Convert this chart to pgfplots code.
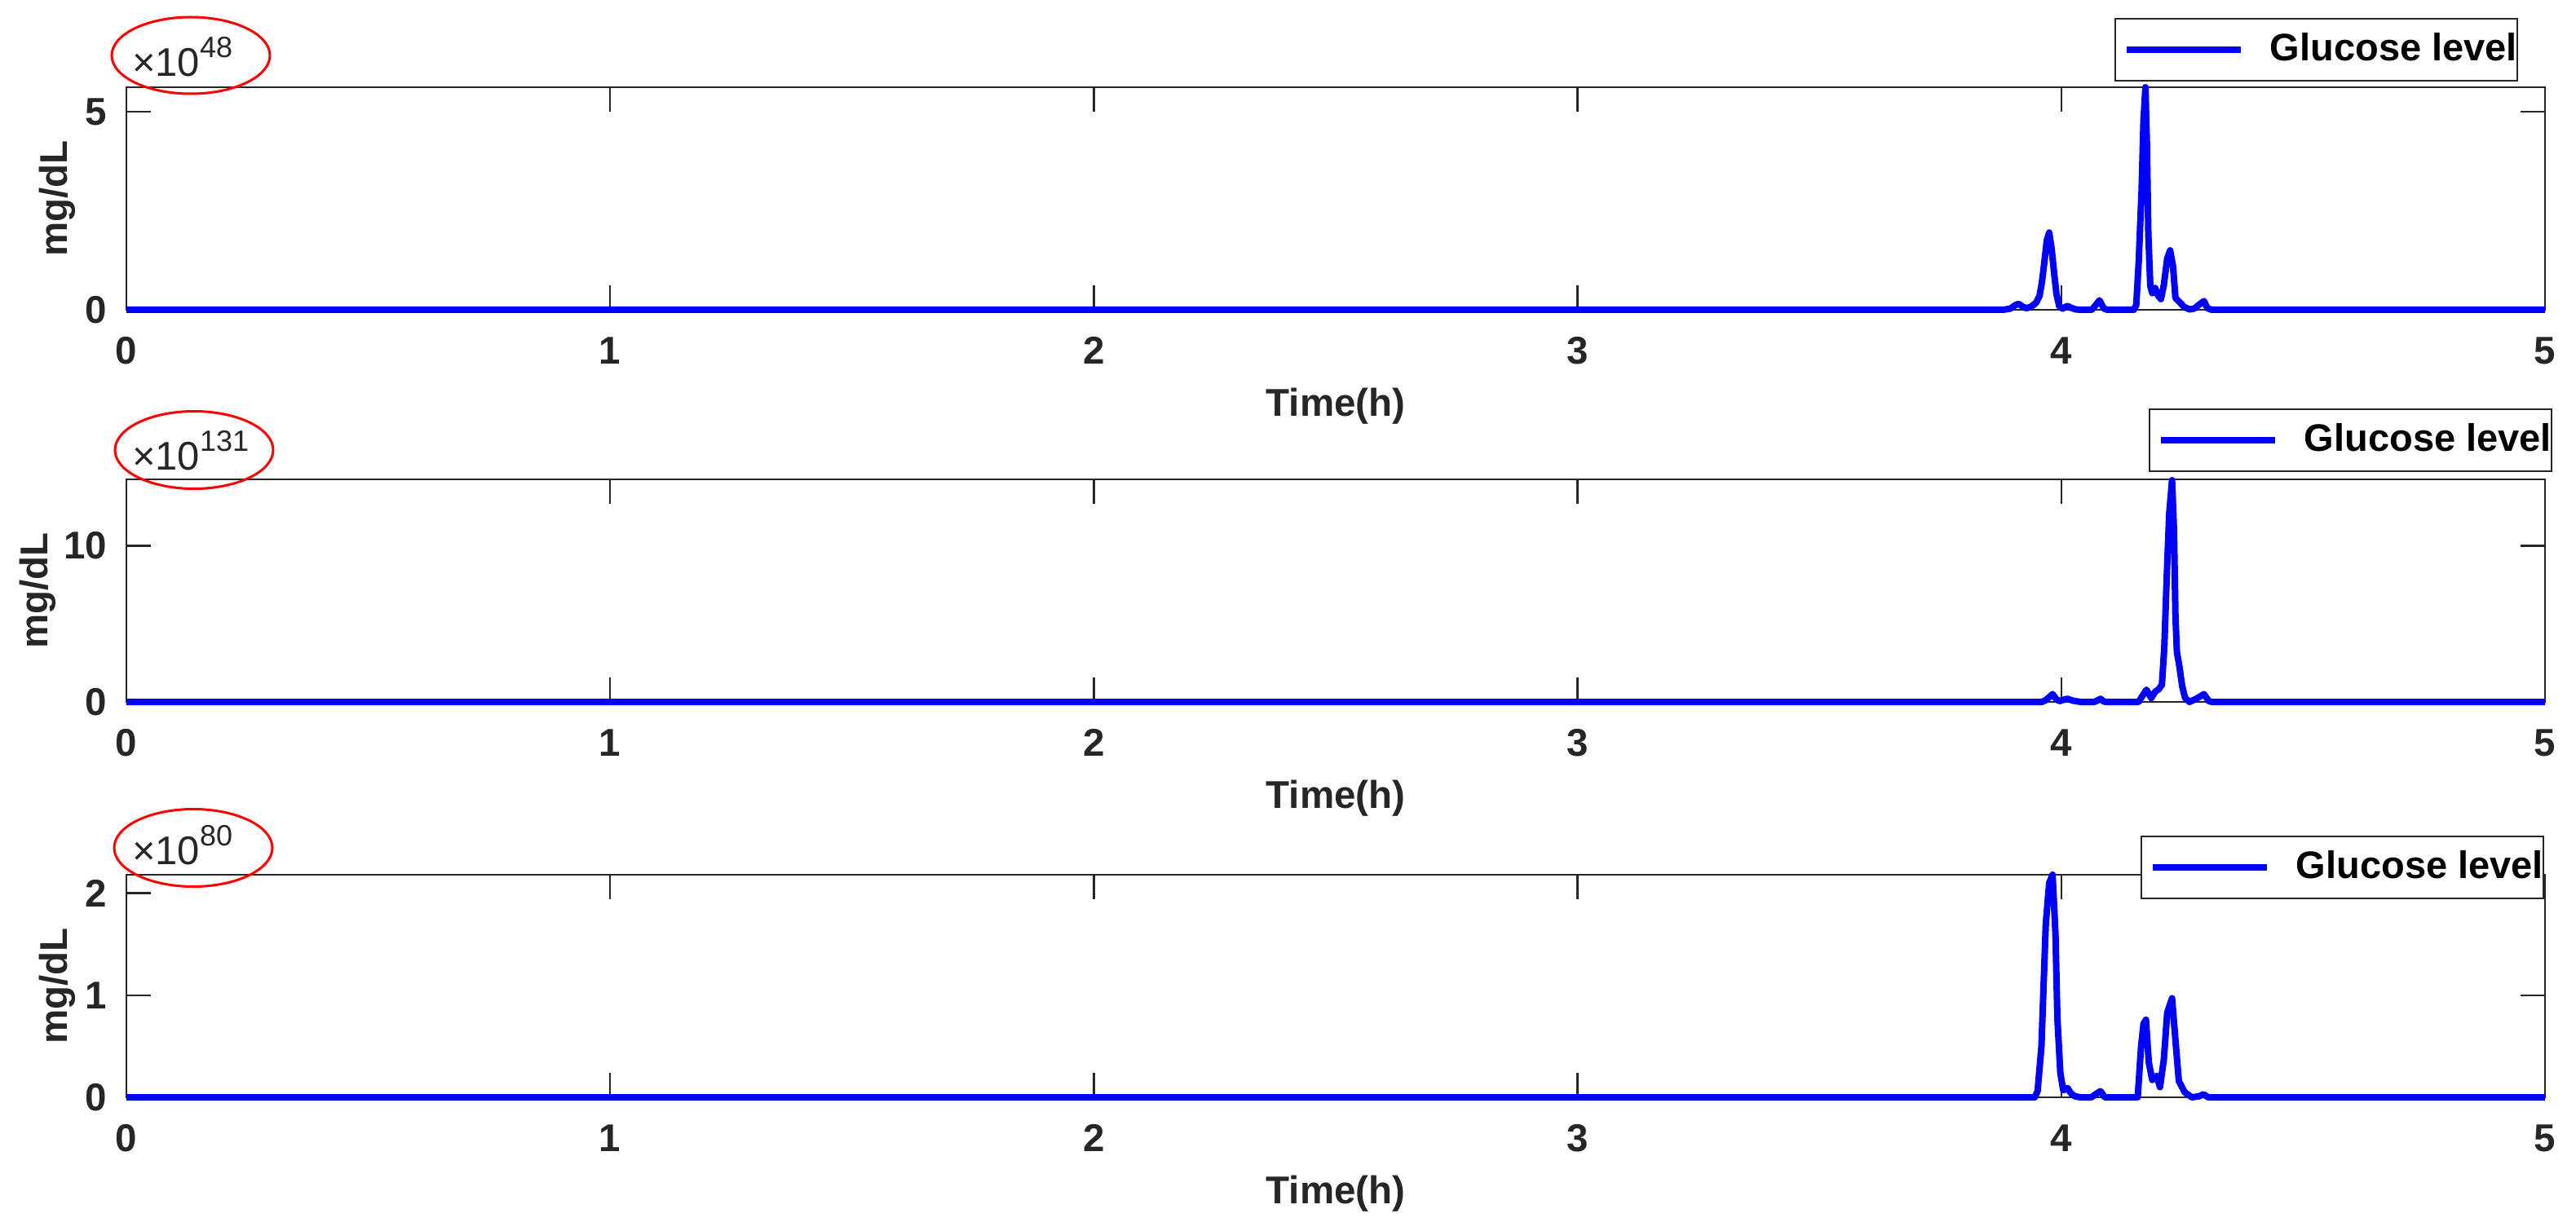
\documentclass[border=0pt]{standalone}
\usepackage{fontspec}
\setmainfont{Liberation Sans}
\usepackage{pgfplots}
\pgfplotsset{compat=1.18}
\definecolor{ax}{gray}{0.15}
\definecolor{mblue}{rgb}{0,0,1}
\pgfplotsset{
  gl/.style={
    scale only axis, width=593.2pt, height=54.6pt,
    anchor=north west,
    xmin=0, xmax=5, xtick={0,1,2,3,4,5},
    ymin=0,
    clip=false,
    axis line style={ax, line width=0.5pt},
    every tick/.style={ax, line width=0.5pt},
    major tick length=6pt,
    tick align=inside,
    xtick pos=both, ytick pos=both,
    tick label style={font=\fontsize{9.5}{10}\selectfont\bfseries, text=ax},
    /pgf/number format/assume math mode=true,
    yticklabel style={xshift=-1.2pt},
    xticklabel style={yshift=-3.2pt},
    xlabel={Time(h)}, ylabel={mg/dL},
    label style={font=\fontsize{9.5}{10}\selectfont\bfseries, text=ax},
    xlabel style={at={(axis description cs:0.5,0)}, anchor=north, yshift=-15.6pt},
    ylabel style={at={(axis description cs:-0.0246,0.5)}, anchor=base},
    legend image code/.code={
      \path[draw=none, fill=none] (0pt,-3.4pt) rectangle (38pt,3.4pt);
      \draw[#1, line width=1.6pt] (2.8pt,0pt) -- (30.8pt,0pt);
    },
    legend style={anchor=north east, draw=ax, line width=0.4pt,
      inner xsep=0pt, inner ysep=3.4pt,
      font=\fontsize{9.4}{10}\selectfont\bfseries, text=black,
      nodes={inner sep=0pt}},
  },
  gline/.style={mblue, line width=1.6pt, line join=round, mark=none},
}
\begin{document}
\begin{tikzpicture}
\useasboundingbox (0,0) rectangle (631.8pt,-302pt);

% ---------- panel 1 ----------
\begin{axis}[gl, name=a1, at={(31pt,-21.4pt)}, ymax=5.62, ytick={0,5},
  legend style={at={(axis description cs:1,1)}, xshift=-6.6pt, yshift=17pt}]
\addplot[gline] coordinates {
(0,0) (3.880,0) (3.895,0.03) (3.905,0.12) (3.912,0.15) (3.920,0.08) (3.928,0.04)
(3.938,0.08) (3.948,0.18) (3.955,0.35) (3.960,0.7) (3.965,1.2) (3.970,1.75)
(3.975,1.95) (3.980,1.55) (3.985,0.95) (3.990,0.4) (3.996,0.08) (4.003,0.03)
(4.008,0.07) (4.013,0.1) (4.020,0.05) (4.030,0.01) (4.040,0) (4.063,0)
(4.070,0.1) (4.079,0.24) (4.088,0.03) (4.095,0) (4.150,0) (4.155,0.12)
(4.160,1.2) (4.166,3.0) (4.170,4.8) (4.174,5.62) (4.177,4.2) (4.180,1.9)
(4.184,0.6) (4.188,0.42) (4.194,0.55) (4.200,0.36) (4.206,0.27) (4.212,0.62)
(4.219,1.3) (4.225,1.5) (4.231,1.1) (4.236,0.3) (4.244,0.2) (4.254,0.07)
(4.265,0.01) (4.275,0.03) (4.286,0.14) (4.295,0.22) (4.302,0.04) (4.311,0) (5,0)
};
\addlegendentry{Glucose level\hspace{3.2pt}}
\end{axis}
\draw[red, line width=0.6pt] ([shift={(15.8pt,7.8pt)}]a1.north west) ellipse [x radius=19.4pt, y radius=9.4pt];
\node[anchor=base west, inner sep=0pt, text=ax] at ([shift={(1.2pt,2.6pt)}]a1.north west)
  {\fontsize{9.8}{10}\selectfont ×10\raisebox{4.6pt}{\fontsize{7.2}{7}\selectfont 48}};

% ---------- panel 2 ----------
\begin{axis}[gl, name=a2, at={(31pt,-117.6pt)}, ymax=14.25, ytick={0,10},
  ylabel style={at={(axis description cs:-0.0327,0.5)}},
  legend style={at={(axis description cs:1,1)}, xshift=1.8pt, yshift=17.4pt}]
\addplot[gline] coordinates {
(0,0) (3.960,0) (3.967,0.1) (3.975,0.3) (3.982,0.5) (3.989,0.2) (3.996,0.05)
(4.006,0.15) (4.013,0.2) (4.024,0.08) (4.040,0) (4.068,0) (4.074,0.08)
(4.081,0.2) (4.088,0.02) (4.095,0) (4.160,0) (4.166,0.3) (4.176,0.78)
(4.186,0.25) (4.194,0.65) (4.201,0.8) (4.208,1.1) (4.213,3.5) (4.218,8)
(4.223,12) (4.229,14.2) (4.233,11) (4.236,5.5) (4.239,3.2) (4.244,2.3)
(4.250,1.0) (4.256,0.25) (4.265,0) (4.279,0.2) (4.295,0.5) (4.305,0.05)
(4.312,0) (5,0)
};
\addlegendentry{Glucose level\hspace{3.2pt}}
\end{axis}
\draw[red, line width=0.6pt] ([shift={(16.6pt,7.2pt)}]a2.north west) ellipse [x radius=19.4pt, y radius=9.5pt];
\node[anchor=base west, inner sep=0pt, text=ax] at ([shift={(1.2pt,2.2pt)}]a2.north west)
  {\fontsize{9.8}{10}\selectfont ×10\raisebox{4.6pt}{\fontsize{7.2}{7}\selectfont 131}};

% ---------- panel 3 ----------
\begin{axis}[gl, name=a3, at={(31pt,-214.6pt)}, ymax=2.18, ytick={0,1,2},
  legend style={at={(axis description cs:1,1)}, xshift=-0.2pt, yshift=9.6pt}]
\addplot[gline] coordinates {
(0,0) (3.945,0) (3.951,0.06) (3.959,0.5) (3.963,1.04) (3.968,1.7) (3.975,2.1)
(3.982,2.18) (3.988,1.6) (3.992,0.77) (3.998,0.24) (4.004,0.07) (4.009,0.08)
(4.013,0.09) (4.020,0.04) (4.028,0.01) (4.040,0) (4.062,0) (4.071,0.03)
(4.081,0.06) (4.090,0) (4.158,0) (4.165,0.5) (4.170,0.72) (4.175,0.76)
(4.181,0.34) (4.188,0.17) (4.197,0.21) (4.204,0.1) (4.212,0.37) (4.219,0.83)
(4.229,0.97) (4.236,0.56) (4.243,0.16) (4.255,0.05) (4.270,0) (4.285,0.01)
(4.294,0.03) (4.304,0) (5,0)
};
\addlegendentry{Glucose level\hspace{3.2pt}}
\end{axis}
\draw[red, line width=0.6pt] ([shift={(16.4pt,6.6pt)}]a3.north west) ellipse [x radius=19.4pt, y radius=9.5pt];
\node[anchor=base west, inner sep=0pt, text=ax] at ([shift={(1.2pt,2.6pt)}]a3.north west)
  {\fontsize{9.8}{10}\selectfont ×10\raisebox{4.6pt}{\fontsize{7.2}{7}\selectfont 80}};
\end{tikzpicture}
\end{document}
